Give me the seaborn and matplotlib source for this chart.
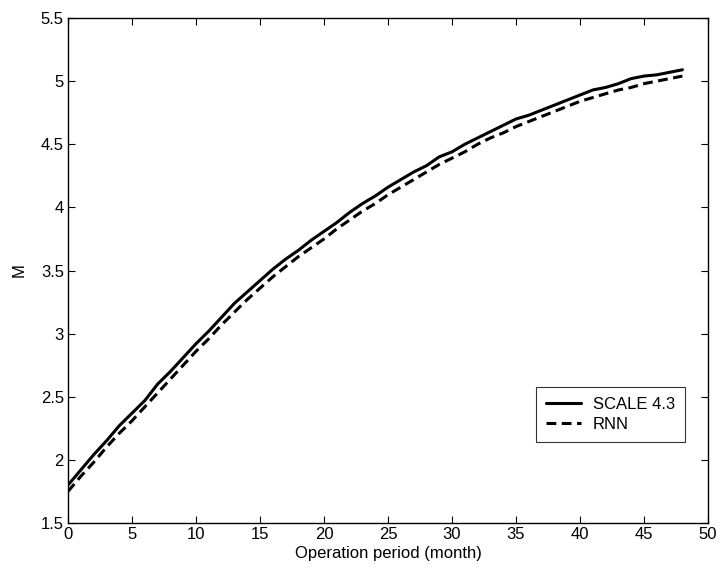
import matplotlib
matplotlib.use("Agg")
import matplotlib.pyplot as plt
import pandas as pd
import seaborn as sns

# Monthly values of M over the operation period
months = list(range(0, 49))
scale43 = [1.80, 1.92, 2.04, 2.15, 2.27, 2.37, 2.47, 2.60, 2.70, 2.81,
           2.92, 3.02, 3.13, 3.24, 3.33, 3.42, 3.51, 3.59, 3.66, 3.74,
           3.81, 3.88, 3.96, 4.03, 4.09, 4.16, 4.22, 4.28, 4.33, 4.40,
           4.44, 4.50, 4.55, 4.60, 4.65, 4.70, 4.73, 4.77, 4.81, 4.85,
           4.89, 4.93, 4.95, 4.98, 5.02, 5.04, 5.05, 5.07, 5.09]
rnn = [1.75, 1.87, 1.98, 2.10, 2.21, 2.31, 2.42, 2.53, 2.64, 2.75,
       2.86, 2.96, 3.07, 3.17, 3.27, 3.36, 3.45, 3.53, 3.61, 3.68,
       3.75, 3.83, 3.90, 3.97, 4.03, 4.10, 4.16, 4.22, 4.28, 4.34,
       4.39, 4.44, 4.50, 4.55, 4.59, 4.64, 4.68, 4.72, 4.76, 4.80,
       4.84, 4.87, 4.90, 4.93, 4.95, 4.98, 5.00, 5.02, 5.04]
series_names = ["SCALE 4.3", "RNN"]
x_ticks = [0, 5, 10, 15, 20, 25, 30, 35, 40, 45, 50]
y_ticks = [1.5, 2, 2.5, 3, 3.5, 4, 4.5, 5, 5.5]

df = pd.concat([
    pd.DataFrame({"month": months, "M": scale43, "model": series_names[0]}),
    pd.DataFrame({"month": months, "M": rnn, "model": series_names[1]}),
])

sns.set_theme(style="white")
plt.rcParams["font.family"] = ["Liberation Sans", "DejaVu Sans"]
plt.rcParams["text.color"] = "black"
plt.rcParams["axes.labelcolor"] = "black"

FS = 12

fig = plt.figure(figsize=(7.21, 5.75), dpi=100)
ax = fig.add_axes([0.0943, 0.0904, 0.8877, 0.8783])

sns.lineplot(
    data=df, x="month", y="M", hue="model", style="model",
    hue_order=series_names, style_order=series_names,
    palette=["black", "black"],
    dashes={"SCALE 4.3": "", "RNN": (3.2, 1.8)},
    linewidth=2.2, ax=ax,
)

ax.set_xlim(0, 50)
ax.set_ylim(1.5, 5.5)
ax.set_xticks(x_ticks)
ax.set_yticks(y_ticks)
ax.set_xticklabels([f"{t:g}" for t in x_ticks])
ax.set_yticklabels([f"{t:g}" for t in y_ticks])
ax.tick_params(direction="in", length=5, width=0.8, colors="black",
               labelsize=FS, top=True, right=True, bottom=True, left=True,
               pad=3)
for side in ax.spines.values():
    side.set_visible(True)
    side.set_color("black")
    side.set_linewidth(1.0)

ax.set_xlabel("Operation period (month)", fontsize=FS, color="black", labelpad=3)
ax.set_ylabel("M", fontsize=FS, color="black", labelpad=10)

leg = ax.legend(
    loc="lower right", bbox_to_anchor=(0.964, 0.160),
    fontsize=FS, frameon=True, fancybox=False, edgecolor="black",
    handlelength=2.1, handletextpad=0.7, borderpad=0.6, labelspacing=0.3,
    borderaxespad=0.0,
)
leg.get_frame().set_linewidth(0.8)
for txt in leg.get_texts():
    txt.set_color("black")
leg.set_title(None)

fig.savefig("out.png", dpi=100, facecolor="white")
